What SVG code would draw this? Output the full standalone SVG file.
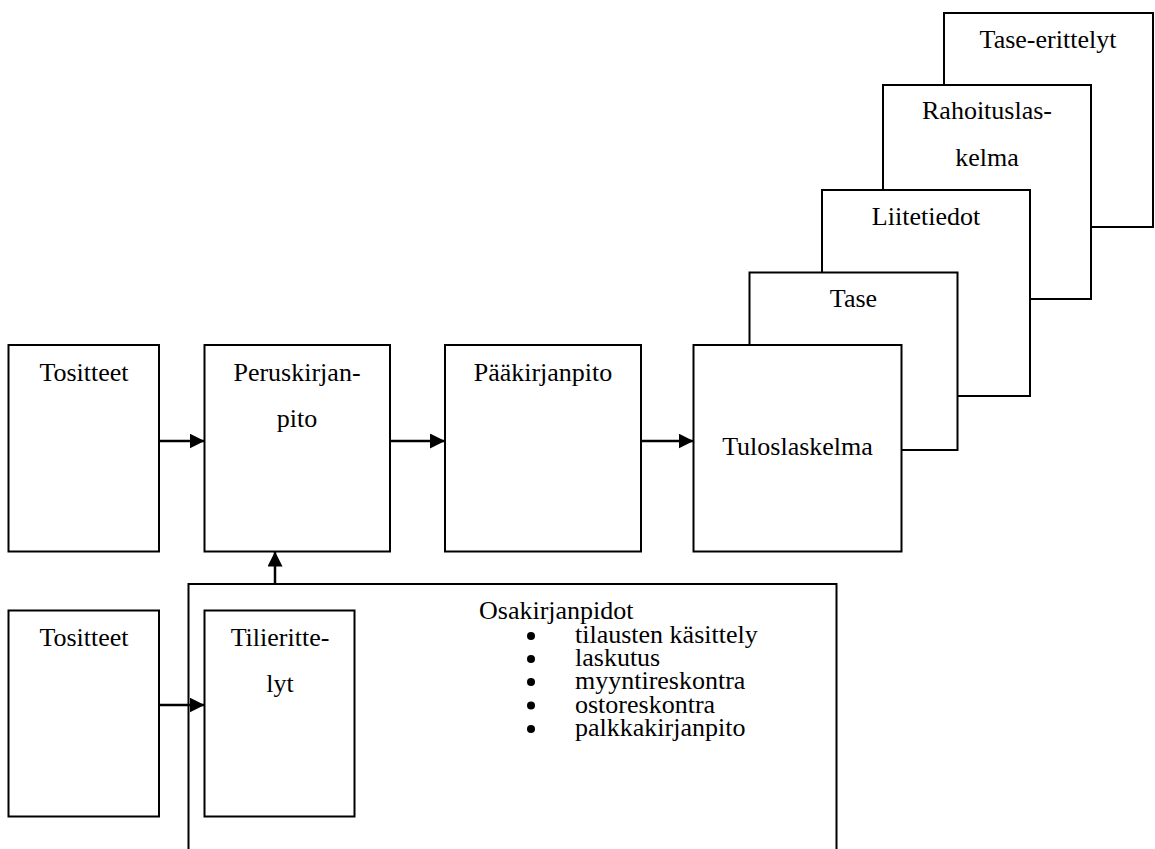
<svg xmlns="http://www.w3.org/2000/svg" width="1155" height="849" viewBox="0 0 1155 849">
<defs>
<style>
.box{fill:#fff;stroke:#000;stroke-width:2}
.t{font-family:"Liberation Serif","Times New Roman",serif;font-size:26px;fill:#000}
.c{text-anchor:middle}
.conn{stroke:#000;stroke-width:2.5;fill:none}
</style>
<marker id="ah" markerWidth="15" markerHeight="15" refX="15" refY="7.5" orient="auto" markerUnits="userSpaceOnUse">
<path d="M0,0 L15,7.5 L0,15 z" fill="#000"/>
</marker>
</defs>
<rect width="1155" height="849" fill="#fff"/>

<g id="tase-erittelyt">
<rect class="box" x="944" y="13" width="209" height="214"/>
<text class="t c" x="1048" y="48">Tase-erittelyt</text>
</g>
<g id="rahoituslaskelma">
<rect class="box" x="883" y="85" width="208" height="214"/>
<text class="t c" x="987" y="119">Rahoituslas-<tspan x="987" dy="47">kelma</tspan></text>
</g>
<g id="liitetiedot">
<rect class="box" x="822" y="190" width="208" height="206"/>
<text class="t c" x="926" y="225">Liitetiedot</text>
</g>
<g id="tase">
<rect class="box" x="749.5" y="272.5" width="208" height="177.5"/>
<text class="t c" x="853.5" y="307">Tase</text>
</g>
<g id="tuloslaskelma">
<rect class="box" x="693.5" y="345" width="208" height="206.5"/>
<text class="t c" x="797.5" y="455">Tuloslaskelma</text>
</g>

<g id="tositteet1">
<rect class="box" x="8.5" y="345" width="150.5" height="206.5"/>
<text class="t c" x="84" y="381">Tositteet</text>
</g>
<g id="peruskirjanpito">
<rect class="box" x="204.5" y="345" width="185.5" height="206.5"/>
<text class="t c" x="297" y="381">Peruskirjan-<tspan x="297" dy="46">pito</tspan></text>
</g>
<g id="paakirjanpito">
<rect class="box" x="445" y="345" width="196" height="206.5"/>
<text class="t c" x="543" y="381">Pääkirjanpito</text>
</g>

<g id="osakirjanpidot">
<rect class="box" x="188.5" y="584" width="648" height="290"/>
<text class="t" x="479" y="619">Osakirjanpidot</text>
<circle cx="531" cy="636" r="4"/>
<circle cx="531" cy="659" r="4"/>
<circle cx="531" cy="682" r="4"/>
<circle cx="531" cy="705.5" r="4"/>
<circle cx="531" cy="729" r="4"/>
<text class="t" x="575" y="643">tilausten käsittely<tspan x="575" dy="23">laskutus</tspan><tspan x="575" dy="23">myyntireskontra</tspan><tspan x="575" dy="23.5">ostoreskontra</tspan><tspan x="575" dy="23.5">palkkakirjanpito</tspan></text>
</g>

<g id="tositteet2">
<rect class="box" x="8.5" y="610.5" width="150.5" height="206"/>
<text class="t c" x="84" y="646">Tositteet</text>
</g>
<g id="tilierittelyt">
<rect class="box" x="204.5" y="610.5" width="150" height="206"/>
<text class="t c" x="280" y="646">Tilieritte-<tspan x="280" dy="46">lyt</tspan></text>
</g>

<g id="connectors">
<line class="conn" x1="159" y1="441" x2="204.5" y2="441" marker-end="url(#ah)"/>
<line class="conn" x1="390" y1="441" x2="445" y2="441" marker-end="url(#ah)"/>
<line class="conn" x1="641" y1="441" x2="693.5" y2="441" marker-end="url(#ah)"/>
<line class="conn" x1="275" y1="584" x2="275" y2="551.5" marker-end="url(#ah)"/>
<line class="conn" x1="159" y1="705" x2="204.5" y2="705" marker-end="url(#ah)"/>
</g>
</svg>
